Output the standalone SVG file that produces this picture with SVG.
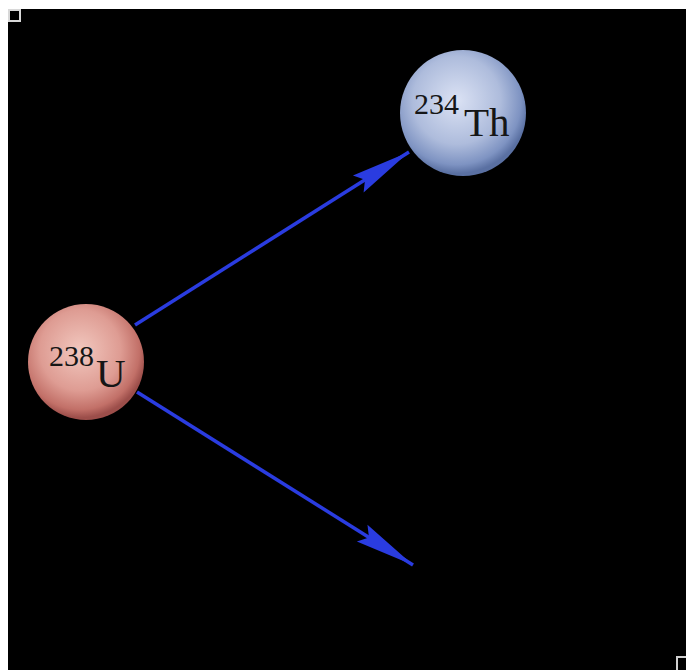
<svg xmlns="http://www.w3.org/2000/svg" width="686" height="670" viewBox="0 0 686 670">
<style>
.arrow{stroke:#2a3ce0;stroke-width:3.5;fill:none}
.lbl{font-family:"Liberation Serif","Times New Roman",serif;fill:#161616}
.sup{font-size:30px}
.big{font-size:41px}
</style>
<defs>
<radialGradient id="gU" cx="45%" cy="40%" r="58%">
<stop offset="0" stop-color="#f2c8bf"/>
<stop offset="0.6" stop-color="#de9c93"/>
<stop offset="0.88" stop-color="#c27068"/>
<stop offset="1" stop-color="#9c4e4a"/>
</radialGradient>
<radialGradient id="gTh" cx="45%" cy="40%" r="58%">
<stop offset="0" stop-color="#dbe2f4"/>
<stop offset="0.6" stop-color="#aebcdc"/>
<stop offset="0.88" stop-color="#7e93c2"/>
<stop offset="1" stop-color="#5a70a2"/>
</radialGradient>
<marker id="head" markerUnits="userSpaceOnUse" viewBox="-64 -12 68 24" refX="0" refY="0" markerWidth="68" markerHeight="24" orient="auto">
<path d="M0,0 L-60,-10 L-52,0 L-60,10 Z" fill="#2a3ce0"/>
</marker>
</defs>
<rect x="0" y="0" width="686" height="670" fill="#ffffff"/>
<rect x="8" y="9" width="678" height="661" fill="#000000"/>
<rect x="9" y="10" width="11" height="11" fill="#000" stroke="#d8d8d8" stroke-width="2"/>
<path d="M677,670 V657 H686" fill="none" stroke="#d0d0d0" stroke-width="2"/>
<g id="connectors">
<line class="arrow" x1="135" y1="325" x2="409" y2="152" marker-end="url(#head)"/>
<line class="arrow" x1="137" y1="392" x2="413" y2="565" marker-end="url(#head)"/>
</g>
<g id="U238">
<circle cx="86" cy="362" r="58" fill="url(#gU)"/>
<text class="lbl sup" x="49" y="366">238</text>
<text class="lbl big" x="96" y="387">U</text>
</g>
<g id="Th234">
<circle cx="463" cy="113" r="63" fill="url(#gTh)"/>
<text class="lbl sup" x="414" y="114">234</text>
<text class="lbl big" x="464" y="136">Th</text>
</g>
</svg>
